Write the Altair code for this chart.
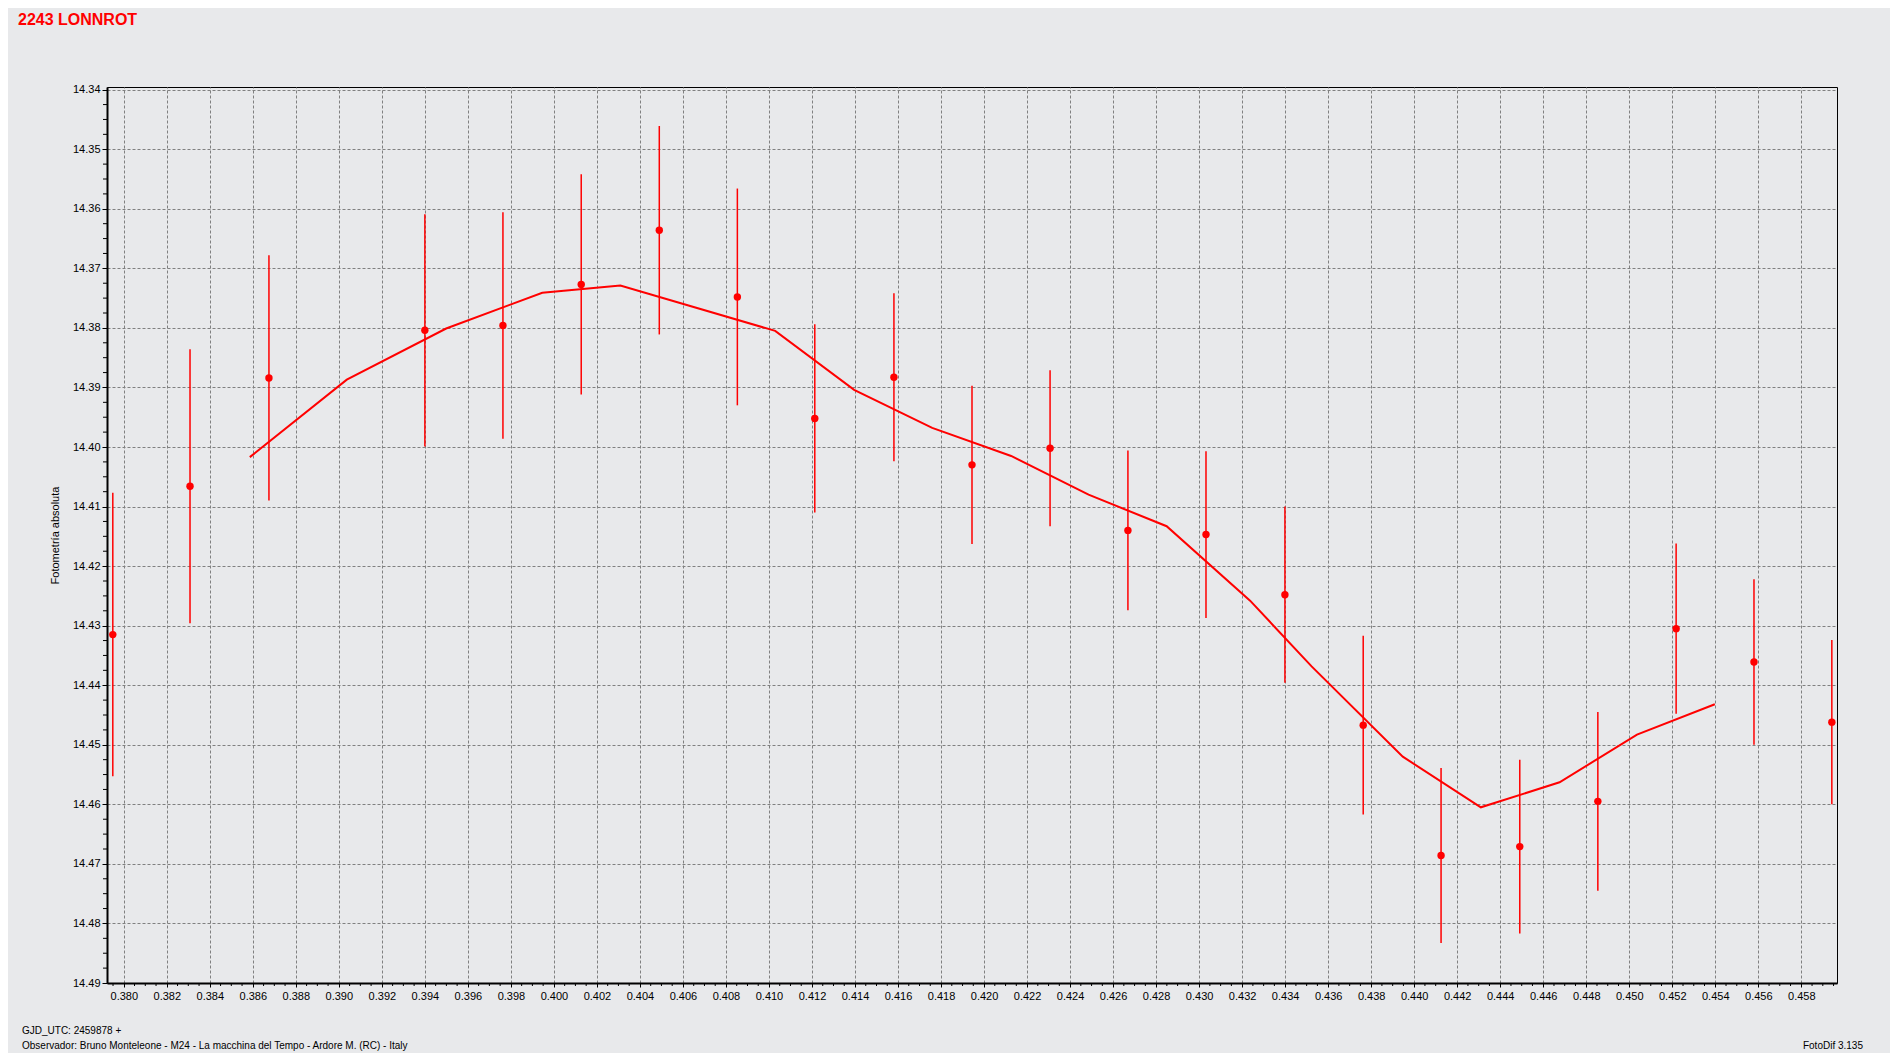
import altair as alt
import pandas as pd
import numpy as np

# ---- data ----
phase = [0.37949, 0.38308, 0.38675, 0.39400, 0.39763, 0.40127, 0.40490, 0.40853,
         0.41213, 0.41581, 0.41944, 0.42307, 0.42669, 0.43032, 0.43399, 0.43763,
         0.44125, 0.44491, 0.44854, 0.45218, 0.45580, 0.45942]
mag = [14.4315, 14.4066, 14.3884, 14.3804, 14.3796, 14.3727, 14.3636, 14.3748,
       14.3952, 14.3883, 14.4030, 14.4002, 14.4140, 14.4147, 14.4248, 14.4467,
       14.4686, 14.4671, 14.4595, 14.4305, 14.4361, 14.4462]
err = [0.0238, 0.0230, 0.0206, 0.0195, 0.0190, 0.0185, 0.0175, 0.0182,
       0.0158, 0.0141, 0.0133, 0.0131, 0.0134, 0.0140, 0.0148, 0.0150,
       0.0147, 0.0146, 0.0150, 0.0143, 0.0139, 0.0138]

fit_x = [0.38586, 0.39037, 0.39499, 0.39946, 0.40309, 0.41029, 0.41396, 0.41759,
         0.42126, 0.42486, 0.42849, 0.43237, 0.43522, 0.43947, 0.44310, 0.44676,
         0.45036, 0.45398]
fit_y = [14.4017, 14.3887, 14.3801, 14.3741, 14.3729, 14.3805, 14.3904, 14.3968,
         14.4015, 14.4080, 14.4133, 14.4258, 14.4368, 14.4520, 14.4605, 14.4563,
         14.4483, 14.4432]

x_ticks = [round(0.380 + 0.002 * i, 3) for i in range(40)]
y_ticks = [round(14.34 + 0.01 * i, 2) for i in range(16)]
x_minor = [round(v, 4) for v in np.arange(0.3795, 0.4596, 0.0005) if abs(v / 0.002 - round(v / 0.002)) > 1e-6]
y_minor = [round(v, 4) for v in np.arange(14.3425, 14.49, 0.0025) if abs(v / 0.01 - round(v / 0.01)) > 1e-6]

title_text = "2243 LONNROT"
y_title = "Fotometría absoluta"
footer1 = "GJD_UTC: 2459878 +"
footer2 = "Observador: Bruno Monteleone - M24 - La macchina del Tempo - Ardore M. (RC) - Italy"
footer3 = "FotoDif 3.135"

W, H = 1730, 896
FONT = "Liberation Sans"
RED = "#FF0000"

obs = pd.DataFrame({"phase": phase, "mag": mag, "err": err})
obs["lo"] = obs["mag"] - obs["err"]
obs["hi"] = obs["mag"] + obs["err"]
fit = pd.DataFrame({"phase": fit_x, "mag": fit_y})

xs = alt.Scale(domain=[0.37922, 0.45966], nice=False, zero=False)
ys = alt.Scale(domain=[14.33955, 14.49], nice=False, zero=False, reverse=True)

grid_common = dict(grid=True, gridColor="#808080", gridDash=[3, 2], gridWidth=1,
                   domainColor="black", domainWidth=2, tickColor="black",
                   labelFont=FONT, labelFontSize=11, labelColor="black")

x_axis = alt.Axis(values=x_ticks, format=".3f", tickSize=4, labelPadding=3,
                  labelFlush=False, title=None, **grid_common)
y_axis = alt.Axis(values=y_ticks, format=".2f", tickSize=5, labelPadding=2,
                  title=y_title, titleFont=FONT, titleFontSize=11, titleFontWeight="normal",
                  titleColor="black", titleAngle=270, titleX=-52, titleY=H / 2,
                  titleAlign="center", titleBaseline="middle", **grid_common)

base_axes = alt.Chart(fit).mark_line(color=RED, strokeWidth=2).encode(
    x=alt.X("phase:Q", scale=xs, axis=x_axis),
    y=alt.Y("mag:Q", scale=ys, axis=y_axis),
    order="phase:Q",
)

bars = alt.Chart(obs).mark_rule(color=RED, strokeWidth=1.5).encode(
    x=alt.X("phase:Q", scale=xs),
    y=alt.Y("lo:Q", scale=ys),
    y2="hi:Q",
)

pts = alt.Chart(obs).mark_circle(color=RED, size=55, opacity=1).encode(
    x=alt.X("phase:Q", scale=xs),
    y=alt.Y("mag:Q", scale=ys),
)

ymin = alt.Chart(pd.DataFrame({"v": y_minor})).mark_rule(color="black", strokeWidth=1).encode(
    y=alt.Y("v:Q", scale=ys),
    x=alt.value(-4), x2=alt.value(0),
)
xmin = alt.Chart(pd.DataFrame({"v": x_minor})).mark_rule(color="black", strokeWidth=1).encode(
    x=alt.X("v:Q", scale=xs),
    y=alt.value(H), y2=alt.value(H + 3),
)


def label(txt, x, y, size=11, weight="normal", color="black", align="left"):
    return alt.Chart(pd.DataFrame({"t": [txt]})).mark_text(
        font=FONT, fontSize=size, fontWeight=weight, color=color,
        align=align, baseline="middle",
    ).encode(text="t:N", x=alt.value(x), y=alt.value(y))


title = label(title_text, -89, -67, size=16, weight="bold", color=RED)
f1 = label(footer1, -85, 944, size=10)
f2 = label(footer2, -85, 959, size=10)
f3 = label(footer3, 1756, 959, size=10, align="right")

chart = alt.layer(base_axes, bars, pts, ymin, xmin, title, f1, f2, f3).properties(
    width=W, height=H,
    autosize=alt.AutoSizeParams(type="none"),
    padding={"left": 99, "top": 79, "right": 53, "bottom": 70},
    background="#E8E9EB",
).configure_view(stroke="black", strokeWidth=1)

chart.save("out.html", embed_options={"renderer": "svg", "actions": False})
